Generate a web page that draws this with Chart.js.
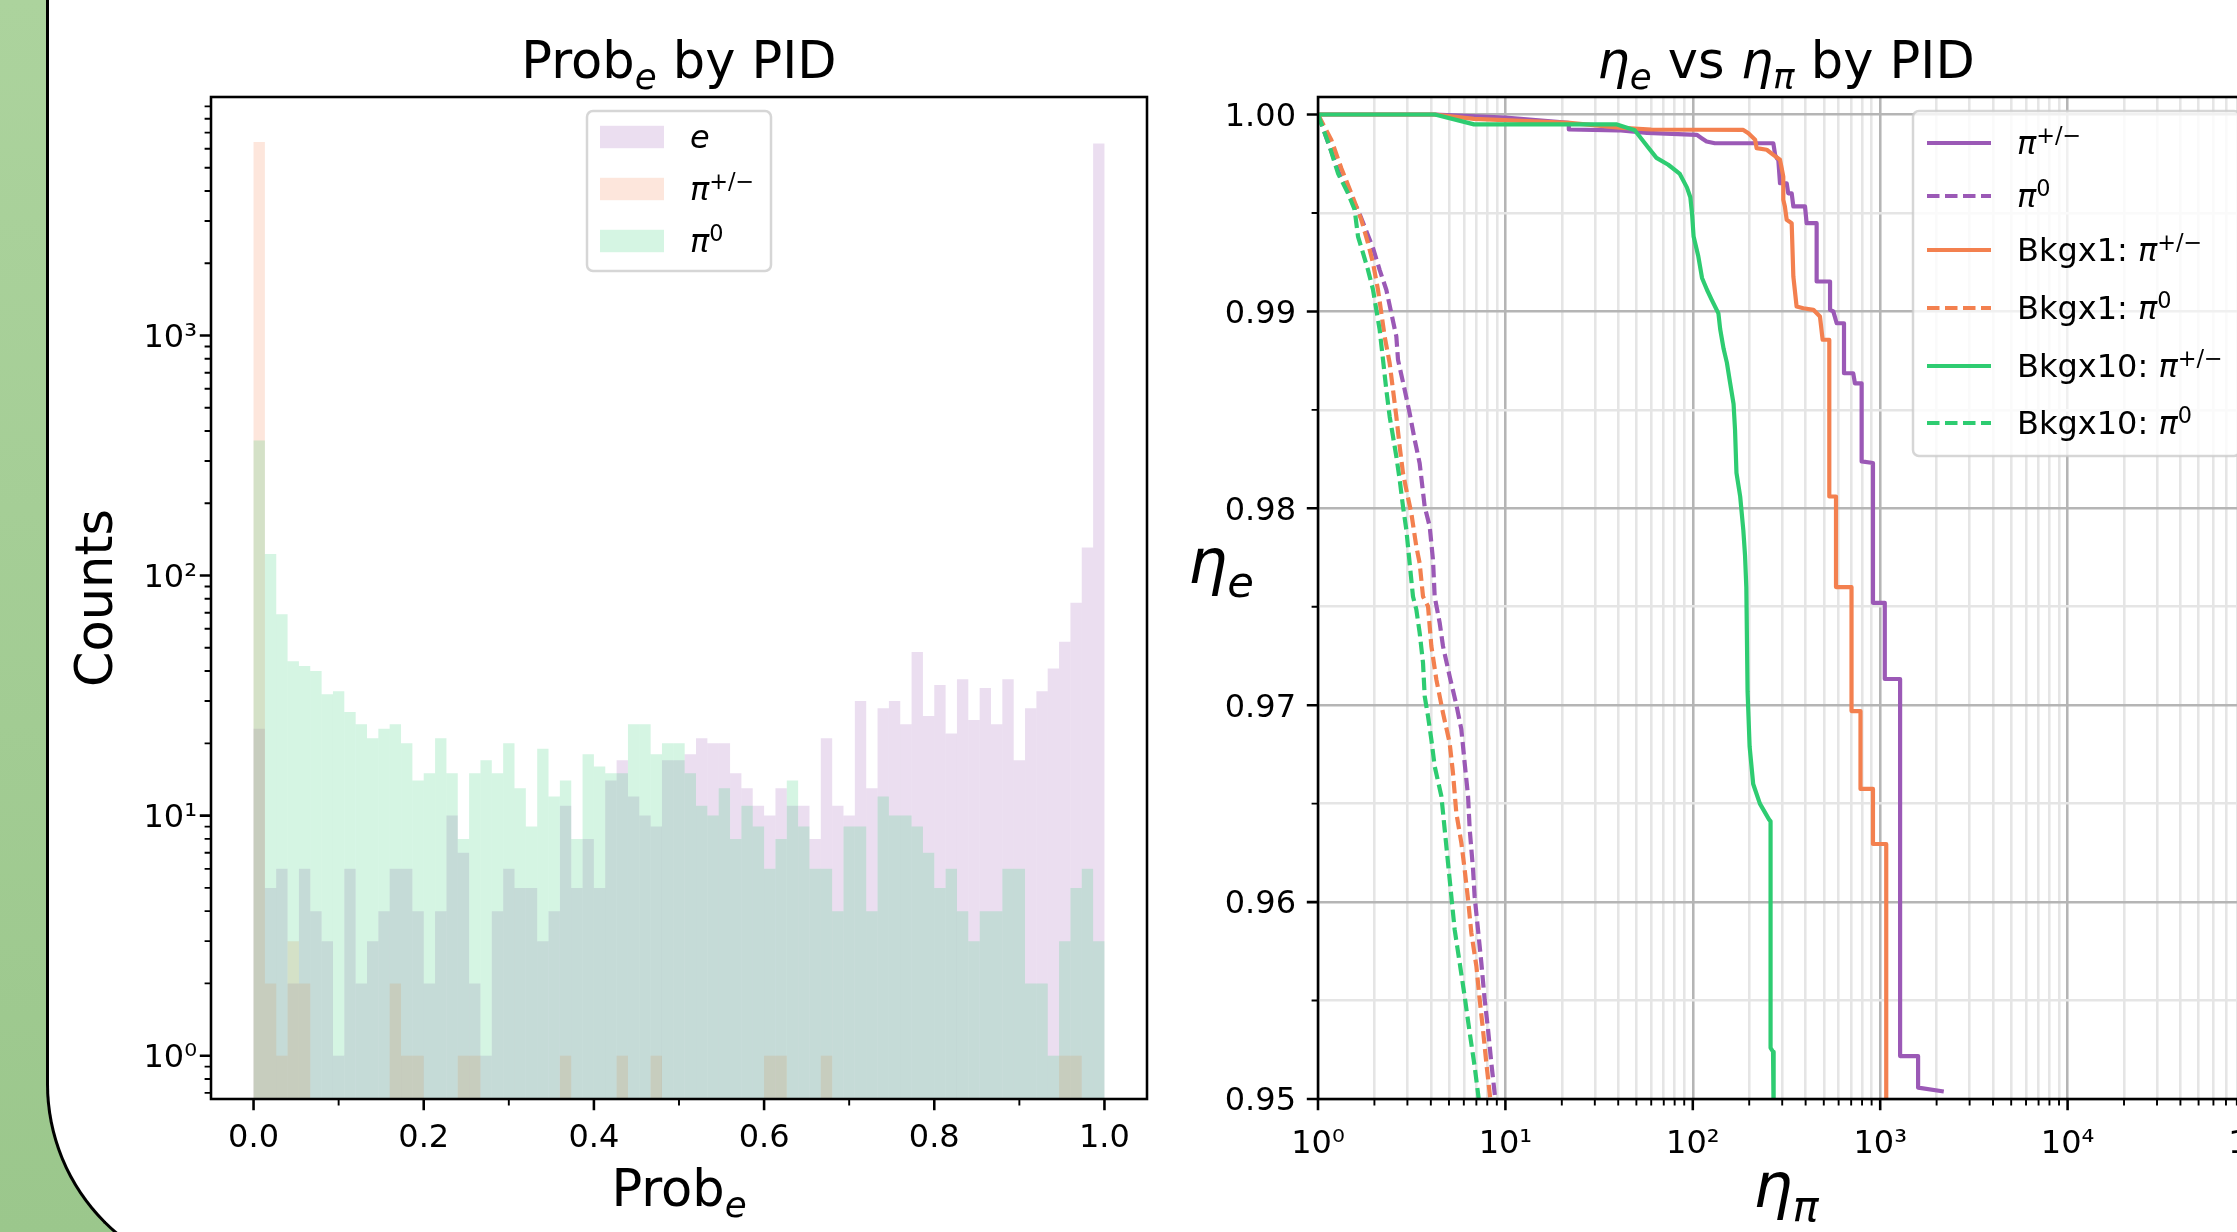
<!DOCTYPE html>
<html>
<head>
<meta charset="utf-8">
<title>Prob_e by PID / eta_e vs eta_pi by PID</title>
<script src="https://cdn.jsdelivr.net/npm/chart.js@4.4.1/dist/chart.umd.min.js"></script>
<style>
  html, body { margin:0; padding:0; overflow:hidden; }
  body { width:2237px; height:1232px; position:relative; background:linear-gradient(180deg,#acd39d 0%,#9bc78c 100%); }
  #panel { position:absolute; left:46px; top:-30px; width:2400px; height:1311px; background:#fff;
           border-left:3px solid #000; border-bottom:3px solid #000; border-bottom-left-radius:197px; box-sizing:border-box; }
  canvas { position:absolute; top:0; }
  #histCanvas { left:0; }
  #rocCanvas { left:1160px; }
</style>
</head>
<body>
<div id="panel"></div>
<canvas id="histCanvas" width="1160" height="1232"></canvas>
<canvas id="rocCanvas" width="1160" height="1232"></canvas>
<script>
// ======================= DATA =======================
// Histogram: 75 bins on [0, 1]
const NBINS = 75;
const binCenters = Array.from({length: NBINS}, (_, i) => (i + 0.5) / NBINS);
const countsE = [
  23,5,6,2,6,4,3,1,6,2,
  3,4,6,6,4,2,4,10,7,2,
  1,4,6,5,5,3,4,11,5,8,
  5,14,17,12,10,9,17,17,18,21,
  20,20,15,13,11,10,13,11,11,8,
  21,11,10,30,13,28,30,24,48,26,
  35,22,37,25,34,24,37,17,28,33,
  41,53,77,131,6300];
const countsPiPM = [
  6400,2,1,3,2,0,0,0,0,0,
  0,0,2,1,1,0,0,0,1,1,
  0,0,0,0,0,0,0,1,0,0,
  0,0,1,0,0,1,0,0,0,0,
  0,0,0,0,0,1,1,0,0,0,
  1,0,0,0,0,0,0,0,0,0,
  0,0,0,0,0,0,0,0,0,0,
  0,1,1,0,0];
const countsPi0 = [
  365,123,69,44,42,40,32,33,27,24,
  21,23,24,20,14,15,21,15,8,15,
  17,15,20,13,9,19,12,14,8,18,
  16,15,15,24,24,18,20,20,15,11,
  10,13,8,11,9,6,8,14,9,6,
  6,4,9,9,4,12,10,10,9,7,
  5,6,4,3,4,4,6,6,2,2,
  1,3,5,6,3];

const histXMajor = [0, 0.2, 0.4, 0.6, 0.8, 1.0];
const histXMinor = [0.1, 0.3, 0.5, 0.7, 0.9];
const histYMajor = [1, 10, 100, 1000];
const histYMinor = [0.7,0.8,0.9, 2,3,4,5,6,7,8,9, 20,30,40,50,60,70,80,90,
                    200,300,400,500,600,700,800,900, 2000,3000,4000,5000,6000,7000,8000,9000];
const HIST_X_MIN = -0.05, HIST_X_MAX = 1.05;
const HIST_Y_MIN = 0.66, HIST_Y_MAX = 9850;

// ROC curves: eta_pi (x) vs eta_e (y)
const rocPiPM_x = [1,4.2,10,21.8,21.8,40,57,105,111.5,118.5,131,269,275,281,286,292,317,323,337,344,397,405,458,458,540,540,562,586,641,641,718,733,796,796,915,915,1058,1058,1277,1277,1593,1593,2184];
const rocPiPM_y = [1.0,1.0,0.99985,0.99958,0.99924,0.9992,0.99907,0.99897,0.9988,0.99863,0.99854,0.99854,0.99795,0.99778,0.9977,0.99651,0.99651,0.996,0.996,0.99533,0.99533,0.99448,0.99448,0.99152,0.99152,0.99008,0.99,0.9894,0.9894,0.98686,0.98686,0.98635,0.98635,0.98238,0.9823,0.9752,0.9752,0.97133,0.97133,0.95218,0.95218,0.95058,0.95038];

const rocPi0_x = [1,1.04,1.305,1.635,1.966,2.133,2.315,2.462,2.618,2.673,2.901,3.084,3.281,3.487,3.709,3.944,4.108,4.194,4.46,4.645,5.04,5.47,5.82,6.06,6.32,6.45,6.72,6.85,7.14,7.44,7.75,8.08,8.41,8.76,8.9];
const rocPi0_y = [1.0,0.99956,0.99694,0.99516,0.99321,0.99211,0.9911,0.98991,0.98873,0.98754,0.98602,0.98483,0.98348,0.98229,0.98009,0.97908,0.97738,0.97552,0.97418,0.973,0.97147,0.97004,0.96877,0.96708,0.96538,0.96369,0.96166,0.9603,0.95861,0.95692,0.95505,0.95353,0.95184,0.95031,0.9495];

const rocBkg1PiPM_x = [1,4.2,6.8,22,42,60,186,198,215,219,248,269,292,298,304,304,310,317,337,344,358,389,440,477,493,535,535,581,581,703,703,785,785,915,915,1077,1077];
const rocBkg1PiPM_y = [1.0,1.0,0.99978,0.99958,0.99932,0.99924,0.99922,0.99905,0.99872,0.99829,0.99821,0.99795,0.9977,0.99727,0.99685,0.99567,0.99533,0.99465,0.99448,0.99177,0.99025,0.99016,0.99008,0.98974,0.98856,0.98856,0.9806,0.9806,0.976,0.976,0.9697,0.9697,0.96575,0.96575,0.96295,0.96295,0.949];

const rocBkg1Pi0_x = [1,1.178,1.332,1.506,1.703,1.848,1.966,2.09,2.178,2.268,2.412,2.513,2.618,2.728,2.842,2.961,3.148,3.347,3.487,3.634,3.864,4.026,4.28,4.645,5.04,5.25,5.47,5.82,6.06,6.32,6.58,7.0,7.29,7.59,7.91,8.24,8.4];
const rocBkg1Pi0_y = [1.0,0.99871,0.99727,0.996,0.99465,0.99347,0.99245,0.9911,0.98991,0.98873,0.98737,0.98602,0.98466,0.98314,0.98178,0.98094,0.97975,0.97806,0.97721,0.97552,0.97503,0.973,0.97131,0.96961,0.96809,0.96657,0.96454,0.96301,0.96166,0.96013,0.95844,0.95675,0.95505,0.95353,0.95184,0.95031,0.9495];

const rocBkg10PiPM_x = [1,4.2,6.8,39,49,57,64,74,85,93,97,99,101,107,112,119,126,137,140,146,152,158,165,168,171,179,186,190,193,196,201,210,228,255,260,260,268,270];
const rocBkg10PiPM_y = [1.0,1.0,0.9995,0.9995,0.9992,0.9984,0.9978,0.99745,0.997,0.9963,0.9958,0.995,0.9938,0.9928,0.9917,0.9911,0.9906,0.9899,0.9891,0.9881,0.9874,0.9864,0.9853,0.984,0.9818,0.9806,0.9789,0.9776,0.976,0.9707,0.9679,0.966,0.965,0.9642,0.9641,0.9526,0.9524,0.949];

const rocBkg10Pi0_x = [1,1.154,1.278,1.446,1.569,1.635,1.739,1.848,1.966,2.048,2.133,2.223,2.315,2.412,2.513,2.618,2.728,2.842,2.961,3.084,3.213,3.347,3.487,3.634,3.709,3.864,4.026,4.194,4.554,4.743,4.94,5.146,5.36,5.7,6.06,6.45,6.85,7.14,7.3];
const rocBkg10Pi0_y = [1.0,0.99837,0.99702,0.996,0.99516,0.9938,0.99296,0.99211,0.9911,0.99008,0.98907,0.98754,0.98602,0.98466,0.98365,0.98263,0.98145,0.98009,0.97891,0.97721,0.97552,0.97486,0.97368,0.97215,0.97046,0.96944,0.96825,0.9669,0.96538,0.96369,0.962,0.9603,0.95861,0.95692,0.95522,0.95336,0.95167,0.95031,0.9495];

const rocXMajor = [1, 10, 100, 1000, 10000, 100000];
const rocXMinor = [2,3,4,5,6,7,8,9, 20,30,40,50,60,70,80,90, 200,300,400,500,600,700,800,900,
                   2000,3000,4000,5000,6000,7000,8000,9000, 20000,30000,40000,50000,60000,70000,80000,90000];
const rocYMajor = [0.95, 0.96, 0.97, 0.98, 0.99, 1.00];
const rocYMinor = [0.955, 0.965, 0.975, 0.985, 0.995];
const ROC_X_MIN = 1, ROC_X_MAX = 100000;
const ROC_Y_MIN = 0.95, ROC_Y_MAX = 1.00089;

// ======================= STYLE =======================
const PURPLE = '#9b59b6', ORANGE = '#f3804f', GREEN = '#2ecc71';
const HIST_FILL = { e: 'rgba(155,89,182,0.2)', pipm: 'rgba(243,128,80,0.2)', pi0: 'rgba(46,204,113,0.2)' };
const FONT = "'DejaVu Sans'";
const TICK_FONT = 32, LEG_FONT = 32, TITLE_FONT = 51, ETA_FONT = 62;
const SUB = 0.22, SUP = -0.34;
const MAJOR_GRID = '#b5b5b5', MINOR_GRID = '#e5e5e5';
const SUPS = {1:'10\u2070', 10:'10\u00b9', 100:'10\u00b2', 1000:'10\u00b3', 10000:'10\u2074', 100000:'10\u2075'};

Chart.defaults.font.family = FONT;
Chart.defaults.color = '#000';

// ======================= helpers =======================
function segFont(s, size) { return (s.it ? 'italic ' : '') + (size * (s.sc || 1)) + 'px ' + FONT; }
function richWidth(ctx, segs, size) {
  let w = 0;
  for (const s of segs) { ctx.font = segFont(s, size); w += ctx.measureText(s.t).width; }
  return w;
}
function drawRich(ctx, segs, x, y, size, align) {
  const w = richWidth(ctx, segs, size);
  let cx = align === 'center' ? x - w / 2 : (align === 'right' ? x - w : x);
  ctx.textAlign = 'left'; ctx.textBaseline = 'alphabetic'; ctx.fillStyle = '#000';
  for (const s of segs) {
    ctx.font = segFont(s, size);
    ctx.fillText(s.t, cx, y + (s.dy || 0) * size);
    cx += ctx.measureText(s.t).width;
  }
}
function legendBox(ctx, x0, y0, x1, y1) {
  ctx.beginPath();
  if (ctx.roundRect) ctx.roundRect(x0, y0, x1 - x0, y1 - y0, 6); else ctx.rect(x0, y0, x1 - x0, y1 - y0);
  ctx.fillStyle = 'rgba(255,255,255,0.8)'; ctx.fill();
  ctx.lineWidth = 2.5; ctx.strokeStyle = 'rgba(204,204,204,0.8)'; ctx.stroke();
}
const piPM = [{t:'\u03c0', it:1}, {t:'+/\u2212', sc:0.7, dy:SUP}];
const pi0 = [{t:'\u03c0', it:1}, {t:'0', sc:0.7, dy:SUP}];

function makeAxesPlugin(cfg) {
  return {
    id: 'mplAxes',
    afterDraw(chart) {
      const {ctx, chartArea: a, scales} = chart;
      ctx.save();
      ctx.setLineDash([]);
      ctx.strokeStyle = '#000';
      ctx.lineWidth = 2.56;
      ctx.strokeRect(a.left, a.top, a.right - a.left, a.bottom - a.top);
      const tick = (axis, vals, len, w) => {
        const s = scales[axis];
        ctx.lineWidth = w; ctx.beginPath();
        for (const v of vals) {
          const p = s.getPixelForValue(v);
          if (axis === 'x') {
            if (p < a.left - 0.5 || p > a.right + 0.5) continue;
            ctx.moveTo(p, a.bottom); ctx.lineTo(p, a.bottom + len);
          } else {
            if (p < a.top - 0.5 || p > a.bottom + 0.5) continue;
            ctx.moveTo(a.left, p); ctx.lineTo(a.left - len, p);
          }
        }
        ctx.stroke();
      };
      tick('x', cfg.xMajor, 11.2, 2.56); tick('x', cfg.xMinor, 6.4, 1.92);
      tick('y', cfg.yMajor, 11.2, 2.56); tick('y', cfg.yMinor, 6.4, 1.92);
      cfg.extras(ctx, a);
      ctx.restore();
    }
  };
}

// ======================= HISTOGRAM =======================
function histData(counts) {
  return binCenters.map((x, i) => ({x, y: counts[i]})).filter(p => p.y > 0);
}
new Chart(document.getElementById('histCanvas'), {
  type: 'bar',
  data: {
    datasets: [
      {label: 'e', data: histData(countsE), backgroundColor: HIST_FILL.e, order: 3},
      {label: '\u03c0+/\u2212', data: histData(countsPiPM), backgroundColor: HIST_FILL.pipm, order: 2},
      {label: '\u03c00', data: histData(countsPi0), backgroundColor: HIST_FILL.pi0, order: 1}
    ]
  },
  options: {
    responsive: false, animation: false, devicePixelRatio: 1,
    layout: {padding: {left: 0, top: 97, right: 13, bottom: 0}},
    plugins: {legend: {display: false}, tooltip: {enabled: false}, title: {display: false}},
    datasets: {bar: {grouped: false, barPercentage: 1, categoryPercentage: 1, borderWidth: 0, inflateAmount: 0, base: HIST_Y_MIN}},
    scales: {
      x: {
        type: 'linear', min: HIST_X_MIN, max: HIST_X_MAX, bounds: 'data', offset: false,
        grid: {display: false, drawTicks: false, offset: false}, border: {display: false},
        ticks: {font: {size: TICK_FONT}, color: '#000', padding: 20, maxRotation: 0, autoSkip: false,
                callback: v => Number(v).toFixed(1)},
        afterBuildTicks: s => { s.ticks = histXMajor.map(v => ({value: v})); },
        afterFit: s => { s.height = 133; }
      },
      y: {
        type: 'logarithmic', min: HIST_Y_MIN, max: HIST_Y_MAX, bounds: 'data',
        grid: {display: false, drawTicks: false}, border: {display: false},
        ticks: {font: {size: TICK_FONT}, color: '#000', padding: 14, labelOffset: 3, autoSkip: false,
                callback: v => SUPS[v] || ''},
        afterBuildTicks: s => { s.ticks = histYMajor.map(v => ({value: v})); },
        afterFit: s => { s.width = 211; }
      }
    }
  },
  plugins: [makeAxesPlugin({
    xMajor: histXMajor, xMinor: histXMinor, yMajor: histYMajor, yMinor: histYMinor,
    extras(ctx) {
      legendBox(ctx, 587, 111, 771, 271);
      const rows = [[HIST_FILL.e, [{t:'e', it:1}], 137], [HIST_FILL.pipm, piPM, 189], [HIST_FILL.pi0, pi0, 241]];
      for (const [c, segs, y] of rows) {
        ctx.fillStyle = c; ctx.fillRect(600, y - 11.2, 64, 22.4);
        drawRich(ctx, segs, 690, y + 11, LEG_FONT, 'left');
      }
      drawRich(ctx, [{t:'Prob'}, {t:'e', it:1, sc:0.7, dy:SUB}, {t:' by PID'}], 679, 78, TITLE_FONT, 'center');
      drawRich(ctx, [{t:'Prob'}, {t:'e', it:1, sc:0.7, dy:SUB}], 679, 1206, TITLE_FONT, 'center');
      ctx.save();
      ctx.translate(112, 598); ctx.rotate(-Math.PI / 2);
      ctx.font = TITLE_FONT + 'px ' + FONT; ctx.fillStyle = '#000';
      ctx.textAlign = 'center'; ctx.textBaseline = 'alphabetic';
      ctx.fillText('Counts', 0, 0);
      ctx.restore();
    }
  })]
});

// ======================= ROC =======================
const rocSeries = [
  {label: 'pi+-', xs: rocPiPM_x, ys: rocPiPM_y, color: PURPLE, dash: false, segs: piPM},
  {label: 'pi0', xs: rocPi0_x, ys: rocPi0_y, color: PURPLE, dash: true, segs: pi0},
  {label: 'Bkgx1: pi+-', xs: rocBkg1PiPM_x, ys: rocBkg1PiPM_y, color: ORANGE, dash: false, segs: [{t:'Bkgx1: '}].concat(piPM)},
  {label: 'Bkgx1: pi0', xs: rocBkg1Pi0_x, ys: rocBkg1Pi0_y, color: ORANGE, dash: true, segs: [{t:'Bkgx1: '}].concat(pi0)},
  {label: 'Bkgx10: pi+-', xs: rocBkg10PiPM_x, ys: rocBkg10PiPM_y, color: GREEN, dash: false, segs: [{t:'Bkgx10: '}].concat(piPM)},
  {label: 'Bkgx10: pi0', xs: rocBkg10Pi0_x, ys: rocBkg10Pi0_y, color: GREEN, dash: true, segs: [{t:'Bkgx10: '}].concat(pi0)}
];
const DASH = [12.5, 5.5];
const LW = 4.2;
const isMajorX = v => rocXMajor.includes(v);
const isMajorY = v => Math.abs(v * 100 - Math.round(v * 100)) < 1e-6;

new Chart(document.getElementById('rocCanvas'), {
  type: 'scatter',
  data: {
    datasets: rocSeries.map((s, i) => ({
      label: s.label,
      data: s.xs.map((x, k) => ({x, y: s.ys[k]})),
      showLine: true, fill: false,
      borderColor: s.color, backgroundColor: s.color,
      borderWidth: LW, borderDash: s.dash ? DASH : [],
      borderCapStyle: 'butt', borderJoinStyle: 'round',
      pointRadius: 0, pointHoverRadius: 0, tension: 0,
      order: rocSeries.length - i
    }))
  },
  options: {
    responsive: false, animation: false, devicePixelRatio: 1,
    layout: {padding: {left: 0, top: 97, right: 65, bottom: 0}},
    plugins: {legend: {display: false}, tooltip: {enabled: false}, title: {display: false}},
    scales: {
      x: {
        type: 'logarithmic', min: ROC_X_MIN, max: ROC_X_MAX, bounds: 'data',
        grid: {drawTicks: false, lineWidth: 2.56, color: c => (c.tick && isMajorX(c.tick.value)) ? MAJOR_GRID : MINOR_GRID},
        border: {display: false},
        ticks: {font: {size: TICK_FONT}, color: '#000', padding: 26, maxRotation: 0, autoSkip: false,
                callback: v => SUPS[v] || ''},
        afterBuildTicks: s => { s.ticks = rocXMajor.concat(rocXMinor).sort((a, b) => a - b).map(v => ({value: v})); },
        afterFit: s => { s.height = 133; }
      },
      y: {
        type: 'linear', min: ROC_Y_MIN, max: ROC_Y_MAX, bounds: 'data',
        grid: {drawTicks: false, lineWidth: 2.56, color: c => (c.tick && isMajorY(c.tick.value)) ? MAJOR_GRID : MINOR_GRID},
        border: {display: false},
        ticks: {font: {size: TICK_FONT}, color: '#000', padding: 22, labelOffset: 3, autoSkip: false,
                callback: v => isMajorY(v) ? Number(v).toFixed(2) : ''},
        afterBuildTicks: s => { s.ticks = rocYMajor.concat(rocYMinor).sort((a, b) => a - b).map(v => ({value: v})); },
        afterFit: s => { s.width = 158; }
      }
    }
  },
  plugins: [makeAxesPlugin({
    xMajor: rocXMajor, xMinor: rocXMinor, yMajor: rocYMajor, yMinor: rocYMinor,
    extras(ctx) {
      legendBox(ctx, 753, 111, 1080, 456);
      const rowsY = [143, 196, 250, 308, 366, 423];
      rocSeries.forEach((s, i) => {
        const y = rowsY[i];
        ctx.save();
        ctx.strokeStyle = s.color; ctx.lineWidth = LW; ctx.lineCap = 'butt';
        ctx.setLineDash(s.dash ? DASH : []);
        ctx.beginPath(); ctx.moveTo(767, y); ctx.lineTo(831, y); ctx.stroke();
        ctx.restore();
        drawRich(ctx, s.segs, 857, y + 11, LEG_FONT, 'left');
      });
      drawRich(ctx, [{t:'\u03b7', it:1}, {t:'e', it:1, sc:0.7, dy:SUB}, {t:' vs '},
                     {t:'\u03b7', it:1}, {t:'\u03c0', it:1, sc:0.7, dy:SUB}, {t:' by PID'}], 626, 78, TITLE_FONT, 'center');
      drawRich(ctx, [{t:'\u03b7', it:1}, {t:'\u03c0', it:1, sc:0.7, dy:SUB}], 626, 1207, ETA_FONT, 'center');
      drawRich(ctx, [{t:'\u03b7', it:1}, {t:'e', it:1, sc:0.7, dy:SUB}], 28, 583, ETA_FONT, 'left');
    }
  })]
});
</script>
</body>
</html>
